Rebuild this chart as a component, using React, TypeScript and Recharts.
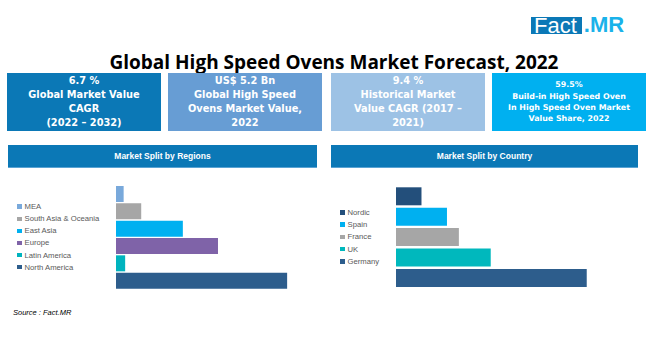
import { Bar, BarChart, Cell, XAxis, YAxis } from "recharts";

// values are estimated shares (%)
const regions = ["MEA", "South Asia & Oceania", "East Asia", "Europe", "Latin America", "North America"];
const regionShare = [2.0, 6.6, 17.5, 26.7, 2.4, 44.8];
const regionColors = ["#79a9db", "#a6a6a6", "#00b0f0", "#7f63a8", "#00b3be", "#2d5d8c"];

const countries = ["Nordic", "Spain", "France", "UK", "Germany"];
const countryShare = [6.0, 12.0, 14.8, 22.3, 44.9];
const countryColors = ["#234f7b", "#00b0f0", "#a6a6a6", "#00b8bd", "#2d5d8c"];

const kpiLines = [
  ["6.7 %", "Global Market Value", "CAGR", "(2022 – 2032)"],
  ["US$ 5.2 Bn", "Global High Speed", "Ovens Market Value,", "2022"],
  ["9.4 %", "Historical Market", "Value CAGR (2017 –", "2021)"],
  ["59.5%", "Build-in High Speed Oven", "In High Speed Oven Market", "Value Share, 2022"],
];
const kpiColors = ["#0b78b6", "#679dd4", "#9dc2e5", "#00b0f0"];
const kpiLeft = [7, 168, 331, 492];

const FONT = "'Liberation Sans', Arial, sans-serif";
const BOLD = "'Open Sans', 'Liberation Sans', sans-serif";
const KPI = "'DejaVu Sans', 'Liberation Sans', sans-serif";

const regionData = regions.map((name, i) => ({ name, value: regionShare[i] }));
const countryData = countries.map((name, i) => ({ name, value: countryShare[i] }));

function Legend({ names, colors, left, top, gap }: { names: string[]; colors: string[]; left: number; top: number; gap: number }) {
  return (
    <div style={{ position: "absolute", left, top }}>
      {names.map((n, i) => (
        <div key={n} style={{ position: "absolute", top: i * gap, left: 0, display: "flex", alignItems: "center", height: 10, whiteSpace: "nowrap" }}>
          <span style={{ width: 4.5, height: 4.5, background: colors[i], marginRight: 3 }} />
          <span style={{ fontSize: 7.7, color: "#595959" }}>{n}</span>
        </div>
      ))}
    </div>
  );
}

function Header({ text, left, width }: { text: string; left: number; width: number }) {
  return (
    <div style={{
      position: "absolute", left, top: 145, width, height: 23, background: "#0b78b6",
      borderBottom: "1px solid #5aa3d3", boxSizing: "border-box",
      color: "#fff", fontWeight: 700, fontSize: 8.5, display: "flex", alignItems: "center", justifyContent: "center",
    }}>{text}</div>
  );
}

export default function App() {
  return (
    <div style={{ position: "absolute", left: 0, top: 0, width: 650, height: 350, background: "#fff", fontFamily: FONT, overflow: "hidden" }}>
      {/* logo */}
      <div style={{ position: "absolute", left: 531, top: 14, height: 22, display: "flex", alignItems: "center", fontSize: 22 }}>
        <span style={{ background: "#0b78b6", color: "#fff", padding: "0 5px 0 3px", lineHeight: "17px", height: 17 }}>Fact</span>
        <span style={{ color: "#1ab2ea", fontWeight: 700, marginLeft: 2 }}>.MR</span>
      </div>

      <div style={{ position: "absolute", left: 0, width: 668, top: 49, textAlign: "center", fontFamily: BOLD, fontSize: 19, lineHeight: "26px", fontWeight: 700, color: "#000" }}>
        Global High Speed Ovens Market Forecast, 2022
      </div>

      {kpiLines.map((lines, i) => (
        <div key={i} style={{
          position: "absolute", left: kpiLeft[i], top: 73, width: 154, height: 58, background: kpiColors[i],
          color: "#fff", fontFamily: KPI, fontWeight: 700, textAlign: "center", display: "flex", flexDirection: "column", justifyContent: "center",
          fontSize: i === 3 ? 7.9 : 9.8, lineHeight: i === 3 ? "11.3px" : "13.8px", whiteSpace: "nowrap",
        }}>
          {lines.map((l) => <div key={l}>{l}</div>)}
        </div>
      ))}

      <Header text="Market Split by Regions" left={8} width={309} />
      <Header text="Market Split by Country" left={331} width={307} />

      <div style={{ position: "absolute", left: 0, top: 170 }}>
        <BarChart width={330} height={135} data={regionData} layout="vertical" margin={{ top: 8, right: 23, left: 116, bottom: 9 }}>
          <XAxis type="number" domain={[0, 50]} hide />
          <YAxis type="category" dataKey="name" width={0} tick={false} tickLine={false}
            axisLine={{ stroke: "#d9d9d9", strokeWidth: 1.5 }} padding={{ top: 7, bottom: 7 }} />
          <Bar dataKey="value" barSize={16} isAnimationActive={false}>
            {regionData.map((d, i) => <Cell key={d.name} fill={regionColors[i]} />)}
          </Bar>
        </BarChart>
      </div>
      <Legend names={regions} colors={regionColors} left={17} top={201.7} gap={12.1} />

      <div style={{ position: "absolute", left: 330, top: 170 }}>
        <BarChart width={320} height={135} data={countryData} layout="vertical" margin={{ top: 8, right: 41.6, left: 66, bottom: 8.5 }}>
          <XAxis type="number" domain={[0, 50]} hide />
          <YAxis type="category" dataKey="name" width={0} tick={false} tickLine={false}
            axisLine={{ stroke: "#d9d9d9", strokeWidth: 1.5 }} padding={{ top: 8.3, bottom: 8.2 }} />
          <Bar dataKey="value" barSize={18} isAnimationActive={false}>
            {countryData.map((d, i) => <Cell key={d.name} fill={countryColors[i]} />)}
          </Bar>
        </BarChart>
      </div>
      <Legend names={countries} colors={countryColors} left={340} top={207.3} gap={12.25} />

      <div style={{ position: "absolute", left: 13, top: 308, fontSize: 7.5, fontStyle: "italic", color: "#000" }}>Source : Fact.MR</div>
    </div>
  );
}
